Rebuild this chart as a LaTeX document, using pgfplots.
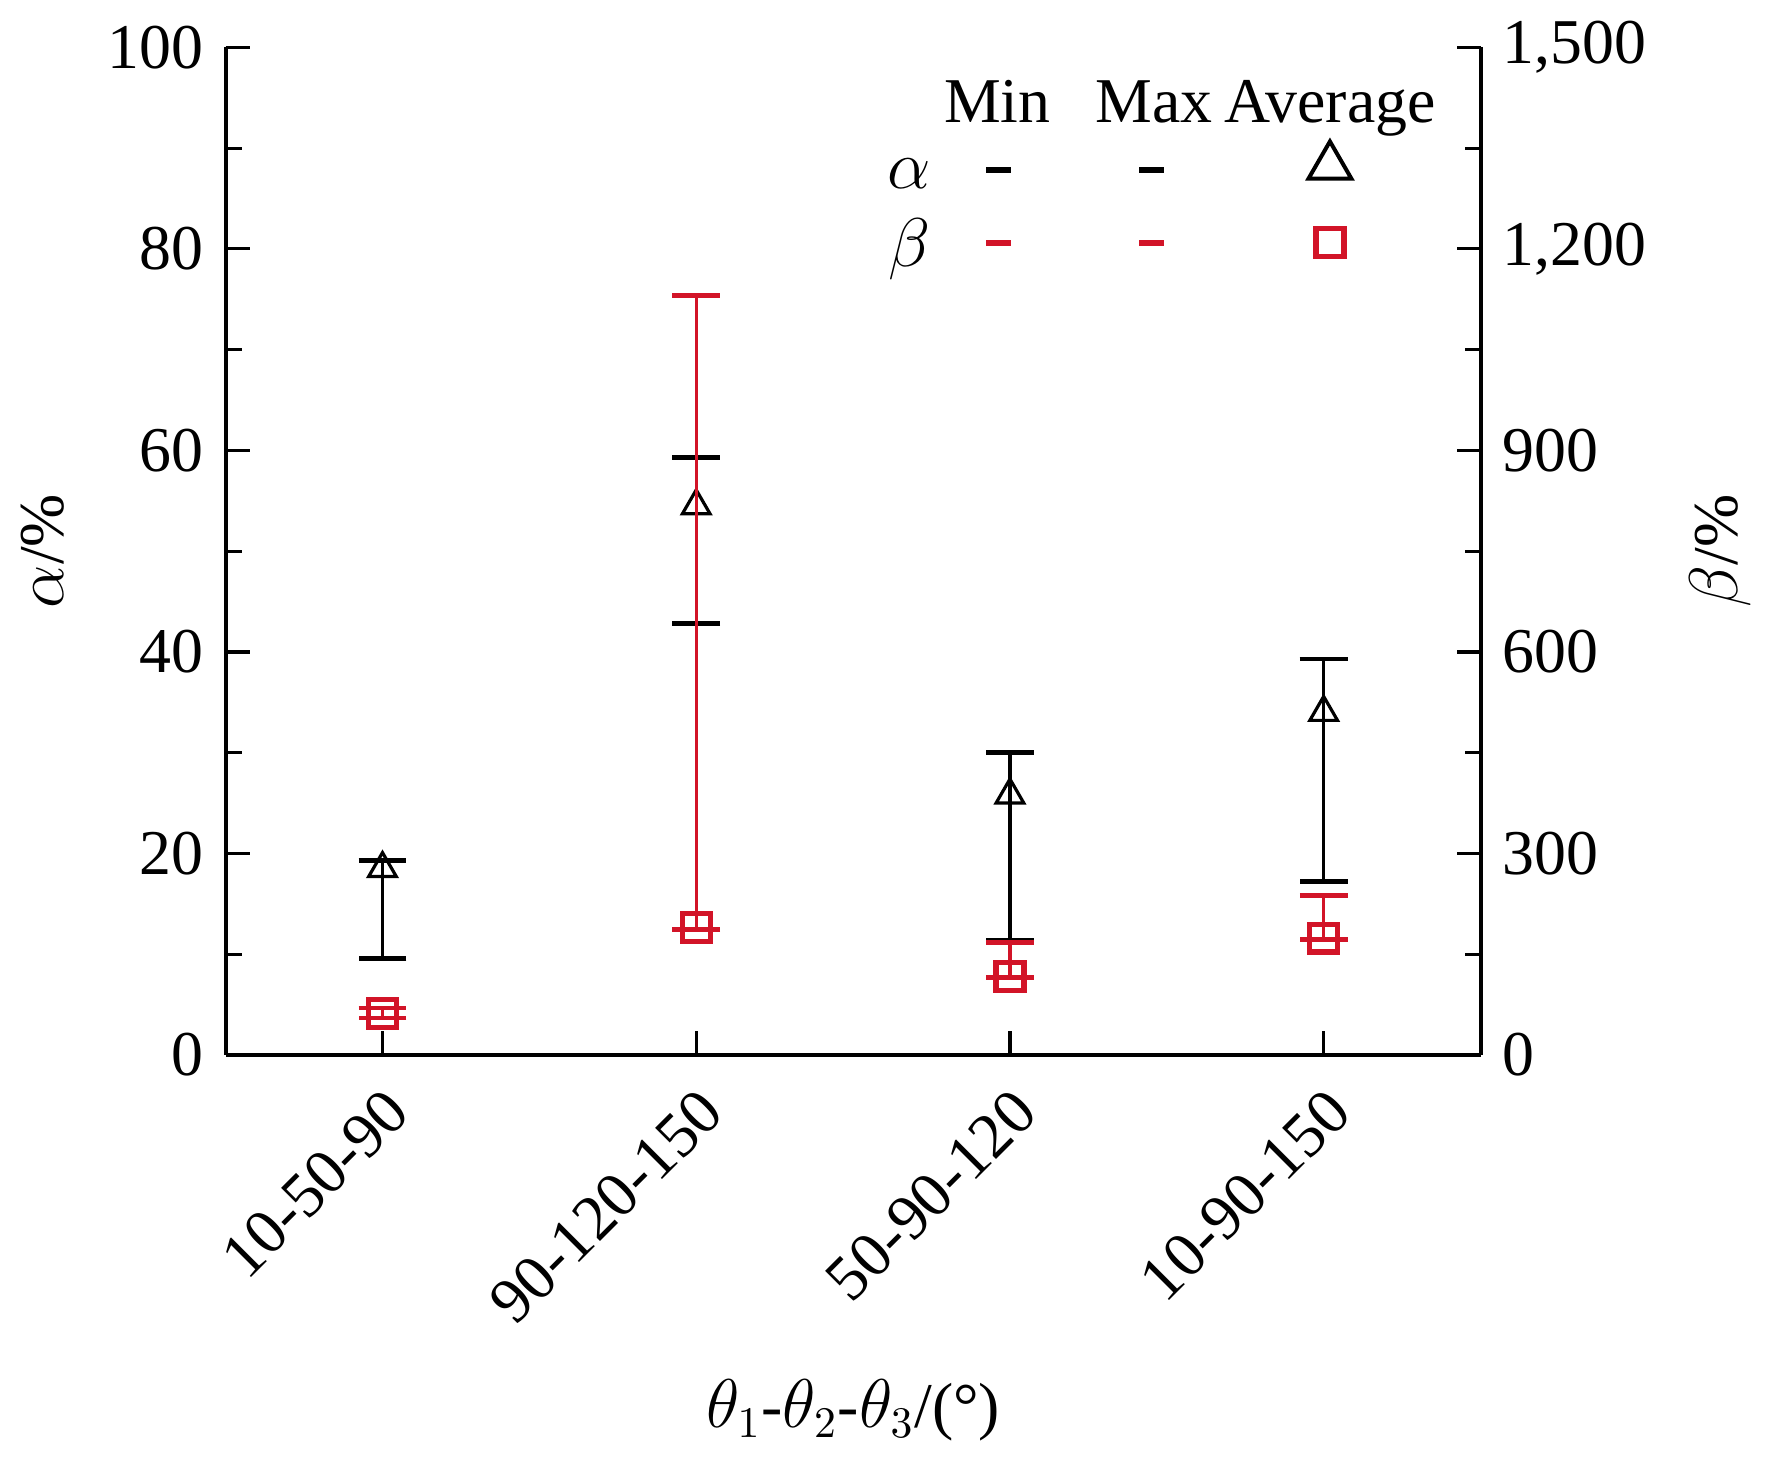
\documentclass[border=0pt]{standalone}
\usepackage{pgfplots}
\pgfplotsset{compat=1.18}
\usetikzlibrary{shapes.geometric}
\usepackage{fontspec}
\setmainfont{Liberation Serif}
\definecolor{myred}{RGB}{210,20,40}
\begin{document}
\fontsize{16}{19}\selectfont
\begin{tikzpicture}
\begin{axis}[
  width=11.06cm, height=8.88cm, scale only axis,
  xmin=-0.5, xmax=3.5, ymin=0, ymax=100,
  axis y line*=left, axis x line*=bottom,
  xtick={0,1,2,3}, xticklabels={10-50-90,90-120-150,50-90-120,10-90-150},
  xticklabel style={rotate=45, anchor=north east, font=\fontsize{16}{19}\selectfont},
  ytick={0,20,...,100}, minor ytick={10,30,...,90},
  tick align=inside, major tick length=6pt, minor tick length=4pt,
  yticklabel style={font=\fontsize{16}{19}\selectfont},
  /pgf/number format/assume math mode=true,
  ylabel={$\alpha$/\%}, xlabel={$\theta_1$-$\theta_2$-$\theta_3$/(°)},
  axis line style={line width=1pt}, tick style={line width=0.8pt, black},
  clip=false,
]
\addplot[black, only marks, mark=triangle, mark size=4pt, mark options={line width=0.8pt},
  error bars/.cd, y dir=both, y explicit, error mark=-, error mark options={mark size=6pt, line width=1.2pt, rotate=90},
  error bar style={line width=0.8pt}]
  coordinates {
  (0,18.5) += (0,0.8) -= (0,8.9)
  (1,54.5) += (0,4.8) -= (0,11.7)
  (2,25.8) += (0,4.2) -= (0,14.4)
  (3,34.0) += (0,5.3) -= (0,16.8)
  };
% legend
\node[anchor=base] at (axis description cs:0.615,0.925) {Min};
\node[anchor=base] at (axis description cs:0.74,0.925) {Max};
\node[anchor=base] at (axis description cs:0.88,0.925) {Average};
\node at (axis description cs:0.545,0.875) {$\alpha$};
\node at (axis description cs:0.545,0.80) {$\beta$};
\draw[black, line width=1.5pt] (axis description cs:0.606,0.878) -- (axis description cs:0.626,0.878);
\draw[black, line width=1.5pt] (axis description cs:0.728,0.878) -- (axis description cs:0.748,0.878);
\draw[myred, line width=1.5pt] (axis description cs:0.606,0.806) -- (axis description cs:0.626,0.806);
\draw[myred, line width=1.5pt] (axis description cs:0.728,0.806) -- (axis description cs:0.748,0.806);
\node[draw=black, line width=1pt, regular polygon, regular polygon sides=3, inner sep=2.2pt] at (axis description cs:0.88,0.882) {};
\node[draw=myred, line width=1.3pt, inner sep=3.5pt] at (axis description cs:0.88,0.806) {};
\end{axis}
\begin{axis}[
  width=11.06cm, height=8.88cm, scale only axis,
  xmin=-0.5, xmax=3.5, ymin=0, ymax=1500,
  axis y line*=right, axis x line=none,
  ytick={0,300,...,1500}, minor ytick={150,450,...,1350},
  tick align=inside, major tick length=6pt, minor tick length=4pt,
  yticklabel style={font=\fontsize{16}{19}\selectfont},
  /pgf/number format/assume math mode=true,
  ylabel={$\beta$/\%},
  axis line style={line width=1pt}, tick style={line width=0.8pt, black},
]
\addplot[myred, only marks, mark=square, mark size=3.5pt, mark options={line width=1.3pt},
  error bars/.cd, y dir=both, y explicit, error mark=-, error mark options={mark size=6pt, line width=1.2pt, rotate=90},
  error bar style={line width=0.8pt}]
  coordinates {
  (0,62) += (0,8) -= (0,7)
  (1,190) += (0,941) -= (0,3)
  (2,117) += (0,50) -= (0,2)
  (3,174) += (0,63) -= (0,2)
  };
\end{axis}
\end{tikzpicture}
\end{document}
